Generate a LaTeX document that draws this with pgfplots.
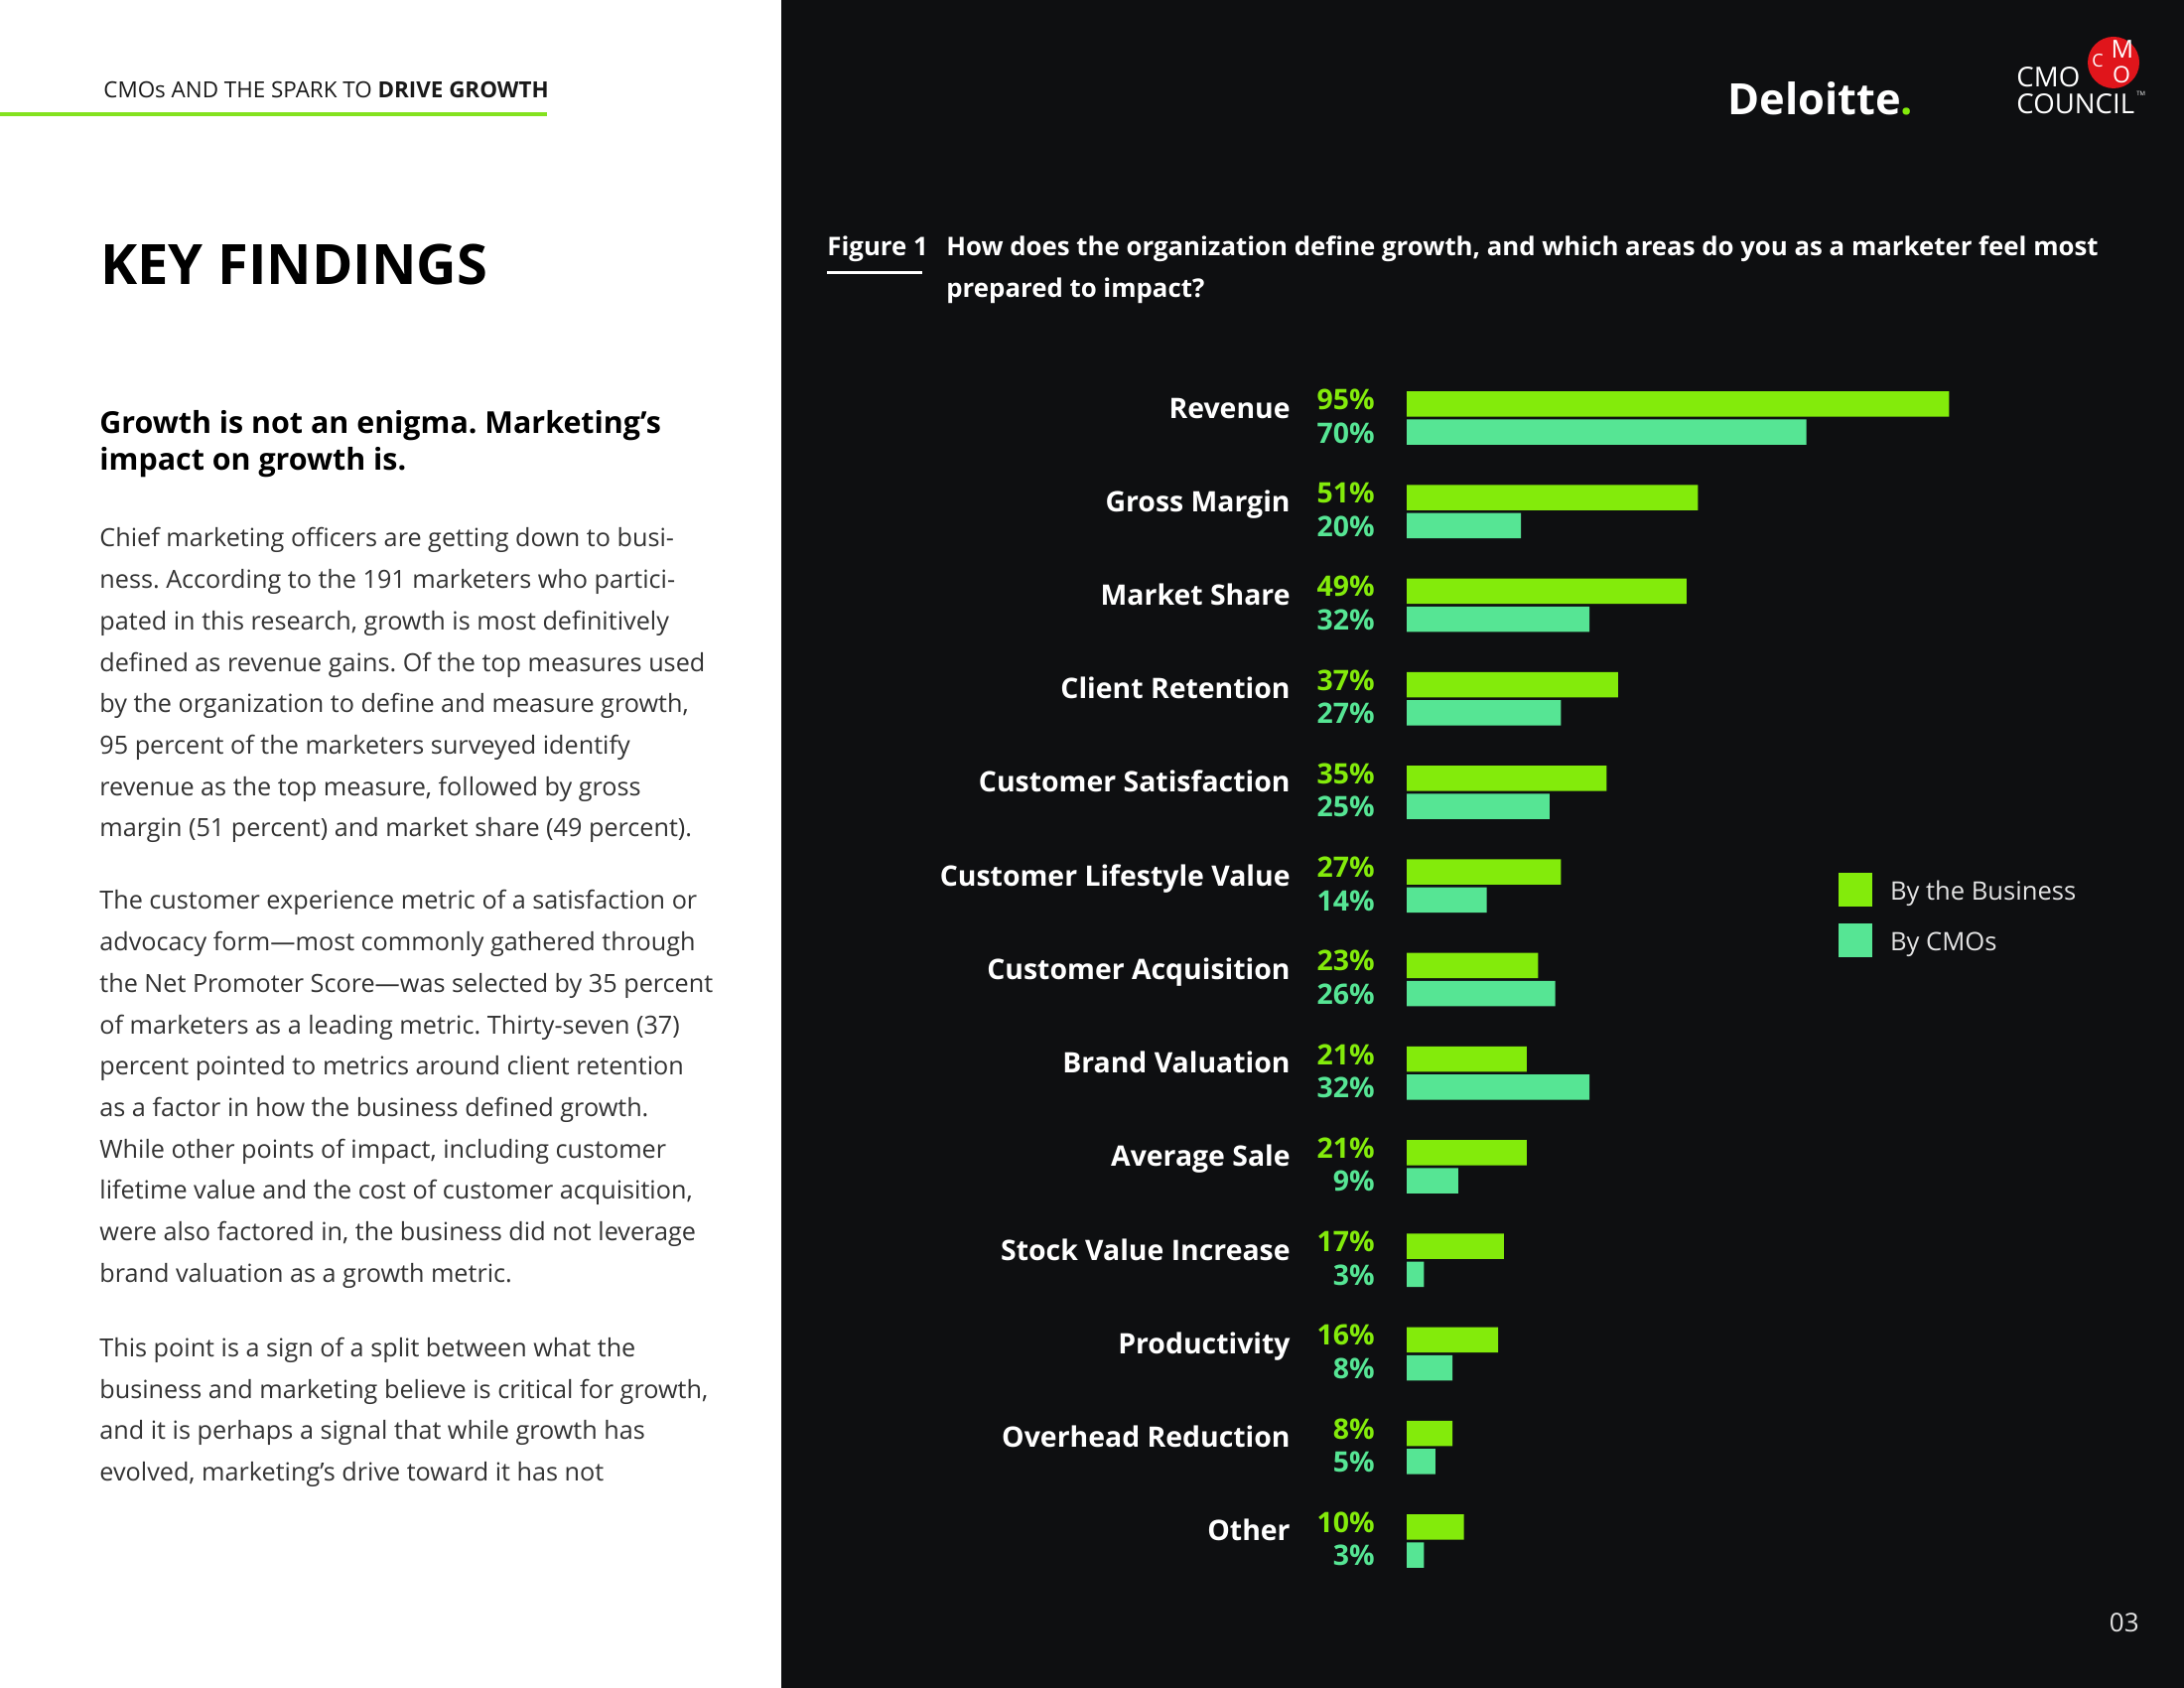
\documentclass[border=0pt]{standalone}
\usepackage{pgfplots}
\pgfplotsset{compat=1.18}
\usepackage{pgfplotstable}
\usepackage{fontspec}
\setmainfont{Open Sans}

\definecolor{panel}{HTML}{0E0F11}
\definecolor{bizgreen}{HTML}{83EB0B}
\definecolor{cmoteal}{HTML}{56E594}
\definecolor{rulegreen}{HTML}{84E21F}
\definecolor{bodygray}{HTML}{333333}
\definecolor{legtext}{HTML}{E4E4E4}
\definecolor{cmored}{HTML}{E0151B}

% growth definitions: business vs CMOs, in percent
\pgfplotstableread[col sep=comma]{
idx,label,biz,cmo
12,Revenue,95,70
11,Gross Margin,51,20
10,Market Share,49,32
9,Client Retention,37,27
8,Customer Satisfaction,35,25
7,Customer Lifestyle Value,27,14
6,Customer Acquisition,23,26
5,Brand Valuation,21,32
4,Average Sale,21,9
3,Stock Value Increase,17,3
2,Productivity,16,8
1,Overhead Reduction,8,5
0,Other,10,3
}\growth

\newcommand\bodyfont{\fontsize{12.6}{14}\selectfont}
\newcommand\catfont{\fontsize{14.2}{16}\selectfont\bfseries}

\begin{document}
\frenchspacing
\begin{tikzpicture}[x=0.5pt,y=0.5pt]
\useasboundingbox (0,0) rectangle (2200,1700);
\fill[white] (0,0) rectangle (787,1700);
\fill[panel] (787,0) rectangle (2200,1700);

% left page
\node[anchor=base west, inner sep=0, text=black!90, font=\fontsize{11.2}{13}\selectfont]
  at (104,1601) {CMOs AND THE SPARK TO \textbf{DRIVE GROWTH}};
\fill[rulegreen] (0,1582.7) rectangle (551,1586.7);
\node[anchor=base west, inner sep=0, text=black, font=\fontsize{28}{32}\selectfont\bfseries]
  at (101,1413) {KEY FINDINGS};
\node[anchor=base west, inner sep=0, text=black, font=\fontsize{15.2}{17}\selectfont\bfseries]
  at (100,1263.5) {Growth is not an enigma. Marketing’s};
\node[anchor=base west, inner sep=0, text=black, font=\fontsize{15.2}{17}\selectfont\bfseries]
  at (100,1226) {impact on growth is.};

\foreach \ln [count=\i from 0] in {
  {Chief marketing officers are getting down to busi-},
  {ness. According to the 191 marketers who partici-},
  {pated in this research, growth is most definitively},
  {defined as revenue gains. Of the top measures used},
  {by the organization to define and measure growth,},
  {95 percent of the marketers surveyed identify},
  {revenue as the top measure, followed by gross},
  {margin (51 percent) and market share (49 percent).}}
  \node[anchor=base west, inner sep=0, text=bodygray, font=\bodyfont]
    at (100,{1149-\i*41.7}) {\ln};

\foreach \ln [count=\i from 0] in {
  {The customer experience metric of a satisfaction or},
  {advocacy form—most commonly gathered through},
  {the Net Promoter Score—was selected by 35 percent},
  {of marketers as a leading metric. Thirty-seven (37)},
  {percent pointed to metrics around client retention},
  {as a factor in how the business defined growth.},
  {While other points of impact, including customer},
  {lifetime value and the cost of customer acquisition,},
  {were also factored in, the business did not leverage},
  {brand valuation as a growth metric.}}
  \node[anchor=base west, inner sep=0, text=bodygray, font=\bodyfont]
    at (100,{784-\i*41.7}) {\ln};

\foreach \ln [count=\i from 0] in {
  {This point is a sign of a split between what the},
  {business and marketing believe is critical for growth,},
  {and it is perhaps a signal that while growth has},
  {evolved, marketing’s drive toward it has not}}
  \node[anchor=base west, inner sep=0, text=bodygray, font=\bodyfont]
    at (100,{333.5-\i*41.7}) {\ln};

% right page header
\node[anchor=base west, inner sep=0, text=white, font=\fontsize{21.7}{24}\selectfont\bfseries]
  at (1740,1584) {Deloitte\textcolor{bizgreen}{.}};
\fill[cmored] (2129,1637) circle (26);
\node[anchor=base, inner sep=0, text=white, font=\fontsize{9}{10}\selectfont] at (2113,1632) {C};
\node[anchor=base, inner sep=0, text=white, font=\fontsize{12.5}{14}\selectfont] at (2138,1641) {M};
\node[anchor=base, inner sep=0, text=white, font=\fontsize{11.5}{13}\selectfont] at (2137,1616) {O};
\node[anchor=base west, inner sep=0, text=white, font=\fontsize{13.8}{16}\selectfont]
  at (2031,1612) {CMO};
\node[anchor=base west, inner sep=0, text=white, font=\fontsize{13.8}{16}\selectfont]
  at (2031,1585) {COUNCIL};
\node[anchor=base west, inner sep=0, text=white, font=\fontsize{3}{4}\selectfont]
  at (2152,1603) {TM};

% figure caption
\node[anchor=base west, inner sep=0, text=white, font=\fontsize{12.9}{15}\selectfont\bfseries]
  at (833,1442) {Figure 1};
\fill[white] (833,1423.5) rectangle (929,1426.5);
\node[anchor=base west, inner sep=0, text=white, font=\fontsize{12.9}{15}\selectfont\bfseries]
  at (953,1442) {How does the organization define growth, and which areas do you as a marketer feel most};
\node[anchor=base west, inner sep=0, text=white, font=\fontsize{12.9}{15}\selectfont\bfseries]
  at (953,1400) {prepared to impact?};

\node[anchor=base east, inner sep=0, text=legtext, font=\fontsize{13}{14}\selectfont]
  at (2155,56) {03};

\begin{axis}[
  at={(708.5pt,50.45pt)}, anchor=south west,
  scale only axis, width=287.5pt, height=612.6pt,
  xmin=0, xmax=100, ymin=-0.5, ymax=12.5,
  hide axis, clip=false,
  legend cell align=left,
  legend image code/.code={\fill[#1] (0pt,-7.3pt) rectangle (17pt,9.7pt);},
  legend style={at={(rel axis cs:0.7565,0.5877)}, anchor=north west,
    draw=none, fill=none, inner sep=0pt, outer sep=0pt, row sep=8.5pt,
    text=legtext, font=\fontsize{12.8}{14}\selectfont,
    nodes={inner sep=0pt},
    /tikz/every odd column/.style={column sep=9pt}},
]
\addplot[xbar, bar width=12.75pt, bar shift=7.05pt, fill=bizgreen, draw=none]
  table[x=biz, y=idx]{\growth};
\addplot[xbar, bar width=12.75pt, bar shift=-7.05pt, fill=cmoteal, draw=none]
  table[x=cmo, y=idx]{\growth};
\legend{By the Business, By CMOs}

% category names
\addplot[draw=none, forget plot, point meta=explicit symbolic,
  nodes near coords={\pgfplotspointmeta},
  every node near coord/.append style={anchor=base east, xshift=-58.5pt,
    inner sep=0pt, text=white, font=\catfont}]
  table[x expr=0, y=idx, meta=label]{\growth};
% value labels
\addplot[draw=none, forget plot, point meta=explicit symbolic,
  nodes near coords={\pgfplotspointmeta\%},
  every node near coord/.append style={anchor=base east, xshift=-16pt, yshift=4.35pt,
    inner sep=0pt, text=bizgreen, font=\catfont}]
  table[x expr=0, y=idx, meta=biz]{\growth};
\addplot[draw=none, forget plot, point meta=explicit symbolic,
  nodes near coords={\pgfplotspointmeta\%},
  every node near coord/.append style={anchor=base east, xshift=-16pt, yshift=-12.5pt,
    inner sep=0pt, text=cmoteal, font=\catfont}]
  table[x expr=0, y=idx, meta=cmo]{\growth};
\end{axis}
\end{tikzpicture}
\end{document}
